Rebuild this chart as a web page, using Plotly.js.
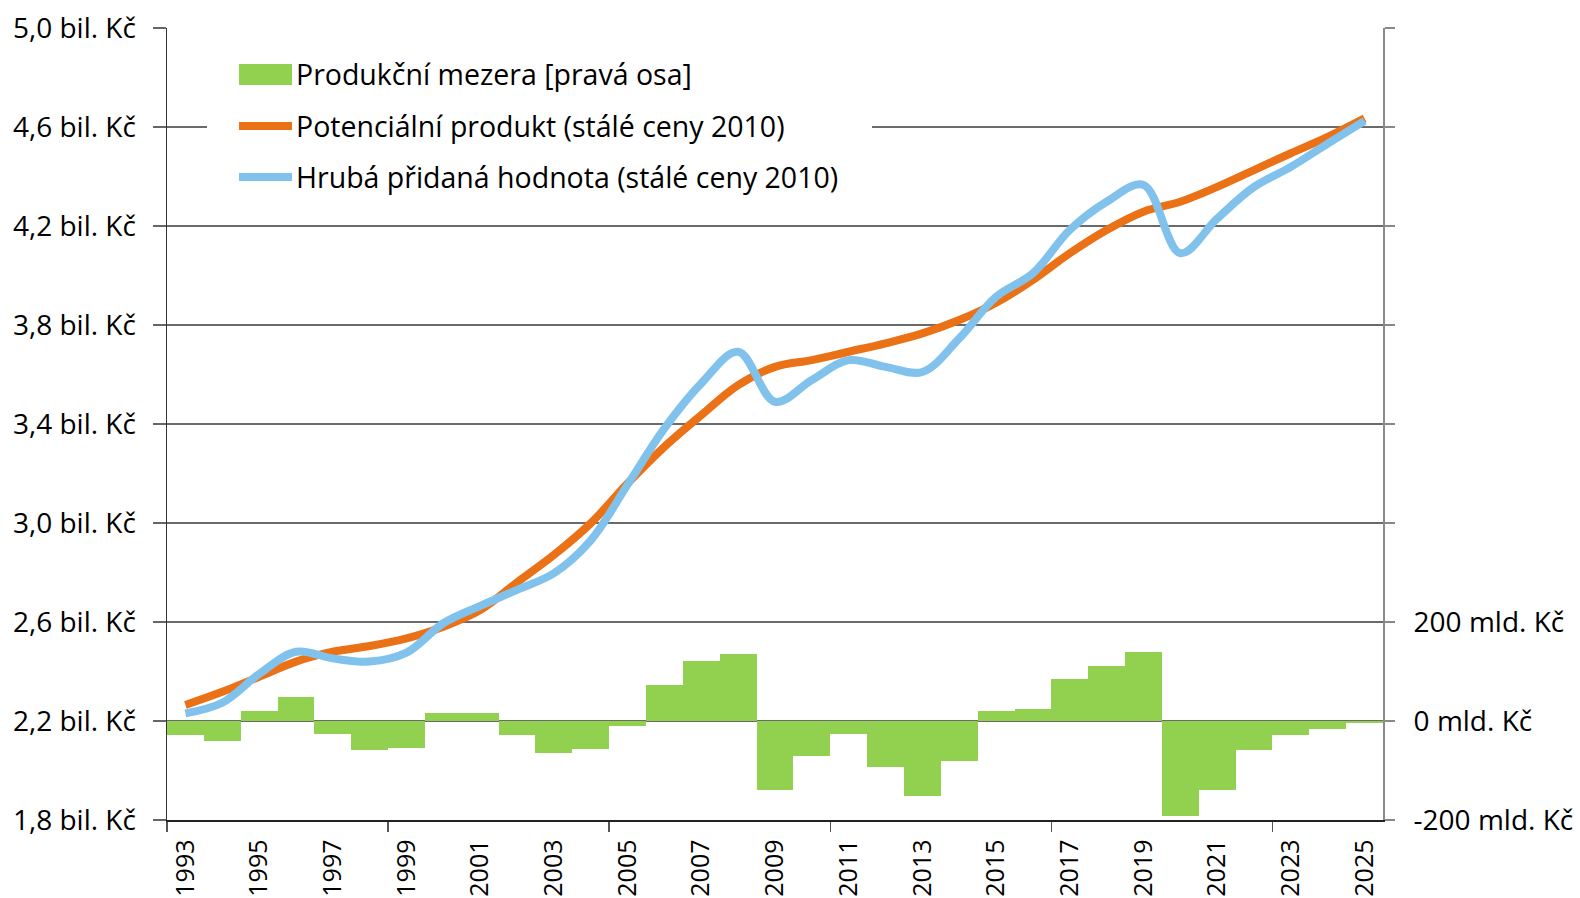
<!DOCTYPE html>
<html><head><meta charset="utf-8">
<script src="https://cdn.plot.ly/plotly-3.0.1.min.js"></script>
<style>html,body{margin:0;padding:0;background:#fff}#chart{width:1580px;height:898px}</style>
</head><body><div id="chart"></div>
<script>
const years = [1993,1994,1995,1996,1997,1998,1999,2000,2001,2002,2003,2004,2005,2006,2007,2008,2009,2010,2011,2012,2013,2014,2015,2016,2017,2018,2019,2020,2021,2022,2023,2024,2025];
// Produkční mezera, mld. Kč (right axis)
const gap = [-28,-41,21,49,-27,-59,-55,17,17,-29,-64,-56,-11,73,122,136,-140,-71,-26,-92,-152,-80,20,24,85,111,140,-191,-140,-59,-29,-16,-4];
// Potenciální produkt, bil. Kč
const potential = [2.265,2.318,2.379,2.44,2.48,2.503,2.534,2.581,2.648,2.76,2.871,2.999,3.16,3.308,3.436,3.557,3.631,3.658,3.692,3.726,3.766,3.82,3.89,3.982,4.09,4.184,4.258,4.298,4.358,4.426,4.494,4.56,4.635];
// Hrubá přidaná hodnota, bil. Kč
const gva = [2.231,2.274,2.39,2.48,2.453,2.44,2.476,2.595,2.665,2.73,2.797,2.93,3.155,3.382,3.564,3.692,3.49,3.578,3.658,3.631,3.61,3.746,3.914,4.009,4.184,4.298,4.366,4.09,4.23,4.358,4.439,4.533,4.625];
const labelYears = [1993,1995,1997,1999,2001,2003,2005,2007,2009,2011,2013,2015,2017,2019,2021,2023,2025];
const leftTicks = [1.8,2.2,2.6,3.0,3.4,3.8,4.2,4.6,5.0];
const leftTickText = ['1,8 bil. Kč','2,2 bil. Kč','2,6 bil. Kč','3,0 bil. Kč','3,4 bil. Kč','3,8 bil. Kč','4,2 bil. Kč','4,6 bil. Kč','5,0 bil. Kč'];
const rightTicks = [-200,0,200,400,600,800,1000,1200,1400];
const rightTickText = ['-200 mld. Kč','0 mld. Kč','200 mld. Kč','','','','','',''];
const legendNames = ['Produkční mezera [pravá osa]','Potenciální produkt (stálé ceny 2010)','Hrubá přidaná hodnota (stálé ceny 2010)'];

const FONT = 'Open Sans, sans-serif';
const GREEN = '#92D050', ORANGE = '#EB7117', BLUE = '#80C2EC';

const L = 167, R = 1383, T = 28, B = 820, W = 1580, H = 898;
const px = x => (x - L) / (R - L);
const py = y => (B - y) / (B - T);

const traces = [
  {type:'bar', x: years, y: gap, yaxis:'y2', width:1, marker:{color:GREEN, line:{width:0}}, name: legendNames[0], showlegend:false},
  {type:'scatter', mode:'lines', x: years, y: potential, line:{color:ORANGE, width:8, shape:'spline', smoothing:1}, name: legendNames[1], showlegend:false},
  {type:'scatter', mode:'lines', x: years, y: gva, line:{color:BLUE, width:8, shape:'spline', smoothing:1}, name: legendNames[2], showlegend:false}
];

const legRows = [74, 126, 177];
const shapes = [
  {type:'rect', xref:'paper', yref:'paper', x0:px(207), x1:px(872), y0:py(205), y1:py(45), fillcolor:'#fff', line:{width:0}, layer:'above'},
  {type:'rect', xref:'paper', yref:'paper', x0:px(239), x1:px(292), y0:py(85), y1:py(64), fillcolor:GREEN, line:{width:0}, layer:'above'},
  {type:'line', xref:'paper', yref:'paper', x0:px(239), x1:px(292), y0:py(legRows[1]), y1:py(legRows[1]), line:{color:ORANGE, width:8}, layer:'above'},
  {type:'line', xref:'paper', yref:'paper', x0:px(239), x1:px(292), y0:py(legRows[2]), y1:py(legRows[2]), line:{color:BLUE, width:8}, layer:'above'}
];
const annotations = legendNames.map((t,i) => ({
  xref:'paper', yref:'paper', x:px(294), y:py(legRows[i]), xanchor:'left', yanchor:'middle',
  text:t, showarrow:false, font:{family:FONT, size:28.5, color:'#000'}
}));

const layout = {
  width: W, height: H,
  margin:{l:L, r:W-R, t:T, b:H-B, pad:0},
  paper_bgcolor:'#fff', plot_bgcolor:'#fff',
  font:{family:FONT, color:'#000'},
  bargap:0,
  showlegend:false,
  xaxis:{
    range:[1992.5,2025.5], tickmode:'array', tickvals:labelYears, ticktext:labelYears.map(String),
    tickangle:-90, ticks:'', showgrid:false, zeroline:false,
    showline:true, linecolor:'#222', linewidth:1.5,
    tickfont:{family:FONT, size:25, color:'#000'}, ticklabelstandoff:8,
    minor:{tickmode:'array', tickvals:[1992.5,1998.5,2004.5,2010.5,2016.5,2022.5], ticks:'outside', ticklen:10, tickwidth:1.5, tickcolor:'#555', showgrid:false}
  },
  yaxis:{
    range:[1.8,5.0], tickmode:'array', tickvals:leftTicks, ticktext:leftTickText,
    ticks:'outside', ticklen:13, tickwidth:1.5, tickcolor:'#666',
    showgrid:true, gridcolor:'#6a6a6a', gridwidth:1.3, zeroline:false,
    showline:true, linecolor:'#333', linewidth:1.5,
    tickfont:{family:FONT, size:28, color:'#000'}, ticklabelstandoff:11
  },
  yaxis2:{
    overlaying:'y', side:'right', range:[-200,1400], tickmode:'array', tickvals:rightTicks, ticktext:rightTickText,
    ticks:'outside', ticklen:10, tickwidth:1.5, tickcolor:'#888',
    showgrid:false, zeroline:false, showline:true, linecolor:'#8a8a8a', linewidth:2,
    tickfont:{family:FONT, size:28, color:'#000'}, ticklabelstandoff:13
  },
  shapes: shapes,
  annotations: annotations
};

Plotly.newPlot('chart', traces, layout, {displayModeBar:false, staticPlot:true});
</script>
</body></html>
